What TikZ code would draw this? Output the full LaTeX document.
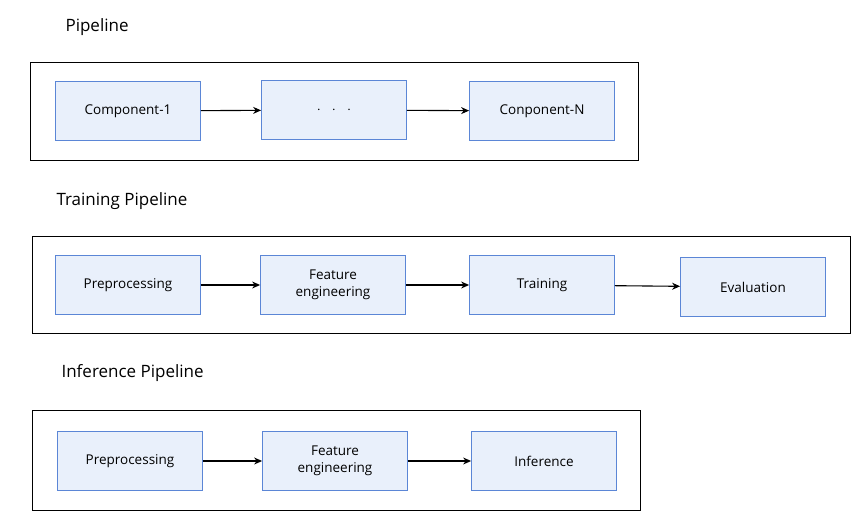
\documentclass[tikz,border=0pt]{standalone}
\usepackage{fontspec}
\setmainfont{Open Sans}
\usetikzlibrary{arrows.meta}
\definecolor{nb}{HTML}{5B86D6}
\definecolor{nf}{HTML}{E9F0FB}
\begin{document}
\begin{tikzpicture}[x=1pt,y=-1pt,
  frame/.style={draw=black,line width=0.8pt},
  comp/.style={draw=nb,fill=nf,line width=0.8pt,minimum width=145pt,minimum height=59pt,align=center,font=\fontsize{13.5}{17}\selectfont,inner sep=0pt},
  ttl/.style={anchor=west,font=\fontsize{17}{20}\selectfont},
  arr/.style={-{Stealth[length=8pt,width=7pt]},line width=1.1pt}]
\useasboundingbox (0,0) rectangle (861,521);
\node[ttl] (t1) at (62,27) {Pipeline};
\draw[frame] (30,62) rectangle (638,160);
\node[comp] (a1) at (128,111) {Component-1};
\node[comp] (a2) at (334,110) {$\cdot\;\;\cdot\;\;\cdot$};
\node[comp] (a3) at (542,111) {Conponent-N};
\draw[arr] (a1) -- (a2); \draw[arr] (a2) -- (a3);
\node[ttl] (t2) at (53,201) {Training Pipeline};
\draw[frame] (32,236) rectangle (850,333);
\node[comp] (b1) at (128,285) {Preprocessing};
\node[comp] (b2) at (333,285) {Feature\\engineering};
\node[comp] (b3) at (542,285) {Training};
\node[comp] (b4) at (753,287) {Evaluation};
\draw[arr] (b1) -- (b2); \draw[arr] (b2) -- (b3); \draw[arr] (b3) -- (b4);
\node[ttl] (t3) at (58,373) {Inference Pipeline};
\draw[frame] (32,410) rectangle (640,510);
\node[comp] (c1) at (130,461) {Preprocessing};
\node[comp] (c2) at (335,461) {Feature\\engineering};
\node[comp] (c3) at (544,461) {Inference};
\draw[arr] (c1) -- (c2); \draw[arr] (c2) -- (c3);
\end{tikzpicture}
\end{document}
